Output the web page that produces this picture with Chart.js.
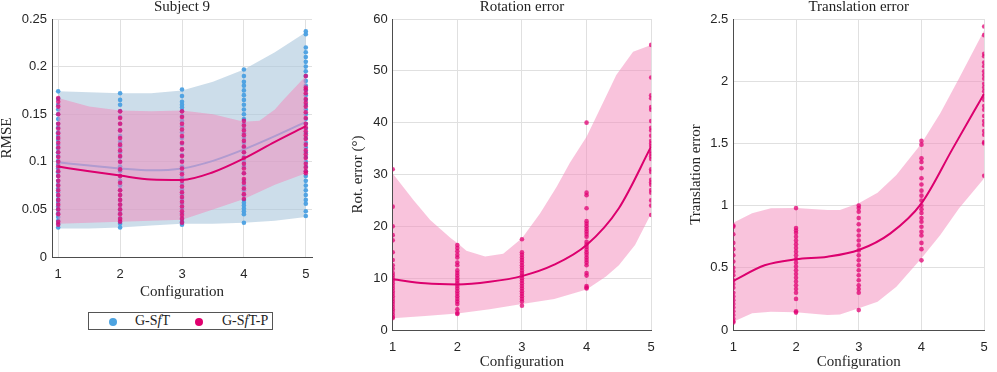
<!DOCTYPE html>
<html><head><meta charset="utf-8">
<script src="https://cdn.jsdelivr.net/npm/chart.js@4"></script>
<style>
html,body{margin:0;padding:0;background:#fff;width:997px;height:372px;overflow:hidden;}
.c{position:absolute;top:0;}
#legend{position:absolute;left:88px;top:312px;width:183px;height:16px;border:1px solid #555;font-family:"Liberation Serif",serif;font-size:14px;color:#222;background:#fff;}
#legend .dot{position:absolute;top:4.5px;width:8px;height:8px;border-radius:50%;}
#legend .lt{position:absolute;top:0px;line-height:16px;white-space:nowrap;}
</style></head>
<body>
<div class="c" style="left:0"><canvas id="c1" width="330" height="300"></canvas></div>
<div class="c" style="left:334px"><canvas id="c2" width="330" height="372"></canvas></div>
<div class="c" style="left:664px"><canvas id="c3" width="333" height="372"></canvas></div>
<div id="legend">
  <span class="dot" style="left:20px;background:#4da3e0"></span><span class="lt" style="left:46px">G-S<i>f</i>T</span>
  <span class="dot" style="left:106px;background:#e0006e"></span><span class="lt" style="left:133px">G-S<i>f</i>T-P</span>
</div>
<script>
// ---------- data ----------
const configs = [1, 2, 3, 4, 5];
const xTicks = [1, 2, 3, 4, 5];
const xTickLabels = ['1', '2', '3', '4', '5'];
const titles = ['Subject 9', 'Rotation error', 'Translation error'];
const yTitles = ['RMSE', 'Rot. error (°)', 'Translation error'];
const xTitle = 'Configuration';
const seriesNames = ['G-SfT', 'G-SfT-P'];

const rmseYTicks = [0, 0.05, 0.1, 0.15, 0.2, 0.25];
const rmseYLabels = ['0', '0.05', '0.1', '0.15', '0.2', '0.25'];
const rotYTicks = [0, 10, 20, 30, 40, 50, 60];
const rotYLabels = ['0', '10', '20', '30', '40', '50', '60'];
const transYTicks = [0, 0.5, 1, 1.5, 2, 2.5];
const transYLabels = ['0', '0.5', '1', '1.5', '2', '2.5'];

// Subject 9 (RMSE) – G-SfT (blue)
const rmseBlueBandX = [1, 1.5, 2, 2.5, 3, 3.5, 4, 4.5, 5];
const rmseBlueUpper = [0.174, 0.173, 0.172, 0.172, 0.175, 0.184, 0.197, 0.215, 0.236];
const rmseBlueLower = [0.030, 0.030, 0.031, 0.033, 0.035, 0.035, 0.036, 0.038, 0.042];
const rmseBlueMean  = [0.0995, 0.096, 0.093, 0.091, 0.093, 0.101, 0.113, 0.127, 0.142];
// Subject 9 (RMSE) – G-SfT-P (pink)
const rmsePinkUpperX = [1, 1.5, 2, 2.5, 3, 3.5, 4, 4.25, 4.5, 4.65, 5];
const rmsePinkUpper  = [0.167, 0.158, 0.154, 0.153, 0.154, 0.150, 0.142, 0.143, 0.155, 0.166, 0.190];
const rmsePinkLowerX = [1, 1.5, 2, 2.5, 3, 3.5, 4, 4.5, 5];
const rmsePinkLower  = [0.035, 0.036, 0.037, 0.038, 0.039, 0.050, 0.061, 0.076, 0.088];
const rmsePinkMeanX  = [1, 1.5, 2, 2.5, 3, 3.5, 4, 4.5, 5];
const rmsePinkMean   = [0.095, 0.090, 0.0855, 0.0815, 0.0810, 0.089, 0.1035, 0.121, 0.1375];

const rmseBluePts = [
  [0.031,0.035,0.038,0.042,0.046,0.050,0.053,0.057,0.060,0.064,0.068,0.072,0.076,0.080,0.085,0.089,0.093,0.097,0.101,0.106,0.110,0.114,0.118,0.123,0.127,0.131,0.136,0.140,0.145,0.150,0.155,0.160,0.166,0.174],
  [0.031,0.035,0.038,0.041,0.046,0.050,0.055,0.060,0.065,0.070,0.075,0.080,0.085,0.090,0.095,0.100,0.105,0.110,0.116,0.121,0.127,0.133,0.140,0.147,0.153,0.160,0.165,0.172],
  [0.034,0.037,0.041,0.046,0.051,0.056,0.061,0.066,0.071,0.077,0.083,0.089,0.095,0.101,0.107,0.113,0.119,0.125,0.131,0.137,0.143,0.148,0.153,0.157,0.160,0.163,0.169,0.176],
  [0.036,0.045,0.048,0.051,0.054,0.057,0.060,0.065,0.070,0.075,0.080,0.088,0.095,0.100,0.105,0.110,0.115,0.120,0.125,0.130,0.135,0.140,0.145,0.150,0.155,0.160,0.165,0.170,0.175,0.180,0.184,0.190,0.197],
  [0.043,0.048,0.056,0.060,0.065,0.070,0.075,0.080,0.085,0.090,0.095,0.100,0.105,0.110,0.115,0.120,0.125,0.130,0.135,0.140,0.145,0.150,0.155,0.160,0.165,0.170,0.175,0.180,0.185,0.190,0.195,0.200,0.205,0.210,0.215,0.220,0.234,0.237]
];
const rmsePinkPts = [
  [0.034,0.037,0.045,0.050,0.055,0.060,0.065,0.070,0.075,0.080,0.085,0.090,0.095,0.100,0.105,0.110,0.115,0.120,0.125,0.130,0.135,0.140,0.150,0.158,0.163,0.167],
  [0.037,0.040,0.045,0.050,0.055,0.060,0.065,0.070,0.078,0.085,0.092,0.100,0.106,0.112,0.118,0.125,0.133,0.140,0.146,0.153],
  [0.036,0.040,0.044,0.048,0.053,0.058,0.063,0.068,0.074,0.080,0.087,0.093,0.100,0.106,0.113,0.120,0.127,0.134,0.140,0.147,0.153],
  [0.061,0.066,0.072,0.078,0.082,0.088,0.093,0.098,0.104,0.110,0.116,0.122,0.128,0.133,0.138,0.143],
  [0.088,0.090,0.094,0.098,0.104,0.108,0.112,0.118,0.124,0.128,0.132,0.136,0.140,0.146,0.152,0.158,0.162,0.166,0.172,0.176,0.178,0.190]
];

// Rotation error – G-SfT-P
const rotUpperX = [1, 1.32, 1.58, 1.9, 2, 2.14, 2.43, 2.71, 3, 3.28, 3.54, 3.74, 4, 4.31, 4.46, 4.72, 5];
const rotUpper  = [30.2, 25.1, 21.2, 17.7, 16.8, 15.3, 14.2, 14.7, 17.7, 22.5, 27.7, 32.2, 37.3, 45.3, 49.2, 53.7, 55.0];
const rotLowerX = [1, 1.5, 2, 2.5, 3, 3.5, 4, 4.3, 4.5, 4.75, 5];
const rotLower  = [2.25, 2.7, 3.2, 4.0, 5.0, 6.0, 7.8, 10.3, 12.5, 16.4, 22.5];
const rotMeanX  = [1, 1.5, 2, 2.5, 3, 3.5, 4, 4.5, 5];
const rotMean   = [9.8, 9.0, 8.8, 9.3, 10.4, 12.6, 16.4, 23.5, 35.4];
const rotPts = [
  [31,23.8,20,18.3,17.3,15,13.5,12.5,11.8,11,10.5,10,9.5,9,8.5,8,7.5,7,6.5,6,5.5,5,4.5,4,3.5,3,2.5,2.3],
  [16.4,15.8,15.2,14.5,14,13,12.5,11.5,11,10.5,10,9.5,9,8.5,8,7.5,7,6.5,6,5.5,5,4,3.3,3.1],
  [17.5,15,14.5,14,13.5,13,12.5,12,11.5,11,10.5,10,9.5,9,8.5,8,7.5,7,6.5,6,5.5,4.7],
  [40,26.5,26,23.5,21,20.5,20,19.5,19,18.5,18,17,16.5,16,15.5,15,14.5,14,13.5,13,12.5,11,10.5,8.5,8.2,8],
  [55,48.7,45.3,44.7,43,42.5,40.3,39,38.5,37.5,36.5,36,35.5,34.5,34,33.5,33,31,30.5,29,28.5,28,27,26.5,25,24,22.2]
];

// Translation error – G-SfT-P
const transBandX = [1, 1.3, 1.6, 2, 2.5, 2.7, 3, 3.3, 3.6, 4, 4.3, 4.6, 5];
const transUpper = [0.862, 0.938, 0.978, 0.980, 0.965, 0.965, 1.018, 1.104, 1.246, 1.500, 1.742, 2.023, 2.410];
const transLower = [0.067, 0.134, 0.147, 0.142, 0.120, 0.125, 0.174, 0.228, 0.348, 0.576, 0.764, 0.978, 1.219];
const transMeanX = [1, 1.5, 2, 2.5, 3, 3.5, 4, 4.5, 5];
const transMean  = [0.394, 0.52, 0.568, 0.589, 0.643, 0.775, 1.018, 1.46, 1.90];
const transPts = [
  [0.84,0.83,0.77,0.7,0.65,0.6,0.55,0.5,0.47,0.44,0.4,0.37,0.34,0.3,0.27,0.24,0.21,0.18,0.15,0.12,0.09,0.07,0.06],
  [0.98,0.82,0.8,0.78,0.75,0.72,0.69,0.66,0.63,0.6,0.57,0.54,0.51,0.48,0.45,0.42,0.39,0.36,0.33,0.3,0.25,0.15,0.14],
  [1.0,0.98,0.95,0.9,0.85,0.8,0.76,0.72,0.68,0.64,0.6,0.56,0.52,0.48,0.44,0.4,0.36,0.33,0.3,0.16],
  [1.52,1.49,1.38,1.35,1.3,1.22,1.17,1.12,1.08,1.04,1.0,0.97,0.94,0.9,0.87,0.83,0.79,0.76,0.7,0.65,0.56],
  [2.44,2.37,2.22,2.2,2.15,2.12,2.08,2.05,2.02,1.98,1.95,1.92,1.88,1.85,1.8,1.77,1.72,1.68,1.65,1.6,1.57,1.51,1.5,1.24]
];

// ---------- styling ----------
const BLUE_DOT = 'rgba(75,160,225,0.95)';
const BLUE_LINE = 'rgb(110,175,230)';
const BLUE_FILL = 'rgba(170,198,220,0.6)';
const PINK_DOT = 'rgba(225,0,115,0.75)';
const PINK_LINE = 'rgb(220,0,110)';
const PINK_FILL = 'rgba(243,135,185,0.5)';

const pairs = (xs, ys) => xs.map((x, i) => ({ x: x, y: ys[i] }));
const pts = (arrs) => configs.flatMap((c, i) => arrs[i].map(v => ({ x: c, y: v })));

function band(label, upX, up, loX, lo, fill, order) {
  return [
    { type: 'line', label: label + ' upper', data: pairs(upX, up), borderWidth: 0, pointRadius: 0,
      backgroundColor: fill, fill: '+1', tension: 0, order: order },
    { type: 'line', label: label + ' lower', data: pairs(loX, lo), borderWidth: 0, pointRadius: 0,
      fill: false, tension: 0, order: order }
  ];
}
function meanLine(label, xs, ys, color, order) {
  return { type: 'line', label: label, data: pairs(xs, ys), borderColor: color, borderWidth: 2,
    pointRadius: 0, fill: false, cubicInterpolationMode: 'monotone', order: order };
}
function dots(label, arrs, color, order) {
  return { type: 'scatter', label: label, data: pts(arrs), backgroundColor: color, borderWidth: 0,
    pointRadius: 2.3, order: order };
}

function mkOptions(o) {
  return {
    responsive: false, animation: false, events: [],
    layout: { padding: { left: 0, right: o.padRight, top: 0, bottom: 0 } },
    plugins: {
      legend: { display: false }, tooltip: { enabled: false },
      title: { display: true, text: o.title, fullSize: false, color: '#222',
        font: { family: 'Liberation Serif', size: 15, weight: 'normal', lineHeight: 1 },
        padding: { top: 0, bottom: 4 } }
    },
    scales: {
      x: { type: 'linear', min: o.xmin, max: o.xmax,
        afterBuildTicks: s => { s.ticks = xTicks.map(v => ({ value: v })); },
        afterFit: s => { s.height = o.xh; },
        grid: { color: '#e0e0e0', drawTicks: false },
        border: { color: '#4d4d4d', width: 1 },
        ticks: { padding: o.xpad, color: '#262626', font: { family: 'Liberation Sans', size: 13 },
          callback: (v, i) => xTickLabels[i] },
        title: { display: true, text: xTitle, color: '#262626',
          font: { family: 'Liberation Serif', size: 15, lineHeight: 1 }, padding: { top: 0, bottom: o.xtpad } }
      },
      y: { type: 'linear', min: o.yTicks[0], max: o.yTicks[o.yTicks.length - 1],
        afterBuildTicks: s => { s.ticks = o.yTicks.map(v => ({ value: v })); },
        afterFit: s => { s.width = o.yw; },
        grid: { color: '#e0e0e0', drawTicks: false },
        border: { color: '#4d4d4d', width: 1 },
        ticks: { padding: 5, color: '#262626', font: { family: 'Liberation Sans', size: 13 },
          callback: (v, i) => o.yLabels[i] },
        title: { display: true, text: o.yTitle, color: '#262626',
          font: { family: 'Liberation Serif', size: 15, lineHeight: 1 }, padding: { top: o.ytpad, bottom: 0 } }
      }
    }
  };
}

// Panel 1
new Chart(document.getElementById('c1'), {
  type: 'scatter',
  data: { datasets: [
    meanLine(seriesNames[1] + ' mean', rmsePinkMeanX, rmsePinkMean, PINK_LINE, 0),
    dots(seriesNames[1], rmsePinkPts, PINK_DOT, 1),
    ...band(seriesNames[1], rmsePinkUpperX, rmsePinkUpper, rmsePinkLowerX, rmsePinkLower, PINK_FILL, 2),
    meanLine(seriesNames[0] + ' mean', rmseBlueBandX, rmseBlueMean, BLUE_LINE, 3),
    dots(seriesNames[0], rmseBluePts, BLUE_DOT, 4),
    ...band(seriesNames[0], rmseBlueBandX, rmseBlueUpper, rmseBlueBandX, rmseBlueLower, BLUE_FILL, 5)
  ] },
  options: mkOptions({ title: titles[0], yTitle: yTitles[0], yTicks: rmseYTicks, yLabels: rmseYLabels,
    xmin: 0.9, xmax: 5.1, padRight: 18, yw: 52, xh: 43, xpad: 10, xtpad: 0.5, ytpad: 0 })
});

// Panel 2
new Chart(document.getElementById('c2'), {
  type: 'scatter',
  data: { datasets: [
    meanLine(seriesNames[1] + ' mean', rotMeanX, rotMean, PINK_LINE, 0),
    dots(seriesNames[1], rotPts, PINK_DOT, 1),
    ...band(seriesNames[1], rotUpperX, rotUpper, rotLowerX, rotLower, PINK_FILL, 2)
  ] },
  options: mkOptions({ title: titles[1], yTitle: yTitles[1], yTicks: rotYTicks, yLabels: rotYLabels,
    xmin: 1, xmax: 5, padRight: 12.3, yw: 58.7, xh: 42, xpad: 9.2, xtpad: 2.5, ytpad: 16.5 })
});

// Panel 3
new Chart(document.getElementById('c3'), {
  type: 'scatter',
  data: { datasets: [
    meanLine(seriesNames[1] + ' mean', transMeanX, transMean, PINK_LINE, 0),
    dots(seriesNames[1], transPts, PINK_DOT, 1),
    ...band(seriesNames[1], transBandX, transUpper, transBandX, transLower, PINK_FILL, 2)
  ] },
  options: mkOptions({ title: titles[2], yTitle: yTitles[2], yTicks: transYTicks, yLabels: transYLabels,
    xmin: 1, xmax: 5, padRight: 3.7, yw: 69.3, xh: 42, xpad: 9.2, xtpad: 2.5, ytpad: 24.5 })
});
</script>
</body></html>
